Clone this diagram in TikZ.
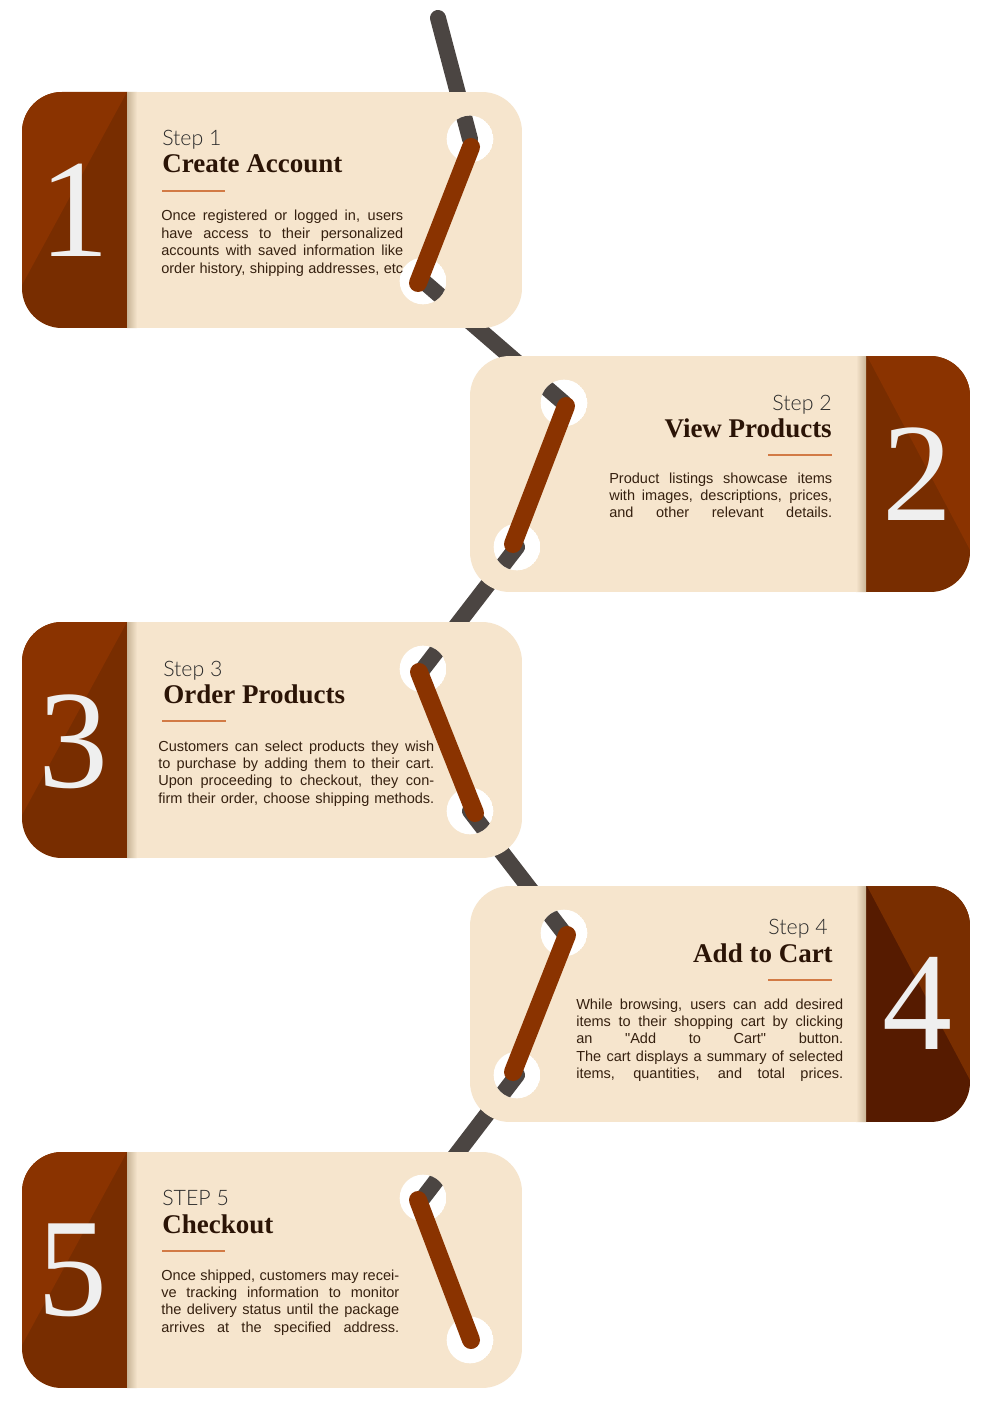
\documentclass[tikz,border=0pt]{standalone}
\usepackage{fontspec}
\setmainfont{Liberation Serif}
\newfontfamily\numfont{Liberation Serif}
\newfontfamily\bodyfont{Liberation Sans}
\newfontfamily\stepfont{Lato Light}

\definecolor{cream}{HTML}{F6E5CD}
\definecolor{blockdark}{HTML}{782D00}
\definecolor{blocklight}{HTML}{8A3300}
\definecolor{blockdarkB}{HTML}{561B00}
\definecolor{blocklightB}{HTML}{792E00}
\definecolor{stitchcol}{HTML}{8A3300}
\definecolor{threadcol}{HTML}{4B4542}
\definecolor{ink}{HTML}{35200F}
\definecolor{titleink}{HTML}{2B1406}
\definecolor{stepink}{HTML}{2A2A2A}
\definecolor{rulecol}{HTML}{D27A45}
\definecolor{digitcol}{HTML}{EFEFEF}
\definecolor{shadowcol}{HTML}{C9B597}

% one justified line of body text
\newcommand\jline[1]{\makebox[\linewidth][s]{#1}\par}

% card with the number block on the left; #1 = top edge
\newcommand\leftcard[3]{%
  \begin{scope}
    \clip[rounded corners=30pt] (22,#1) rectangle (522,#1+236);
    \fill[cream] (22,#1) rectangle (522,#1+236);
    \fill[#2] (22,#1) rectangle (127,#1+236);
    \fill[#3] (22,#1) -- (127,#1) -- (22,#1+193) -- cycle;
    \shade[left color=shadowcol,right color=cream] (127,#1) rectangle (137,#1+236);
  \end{scope}}

% card with the number block on the right; #1 = top edge
\newcommand\rightcard[3]{%
  \begin{scope}
    \clip[rounded corners=30pt] (470,#1) rectangle (970,#1+236);
    \fill[cream] (470,#1) rectangle (970,#1+236);
    \fill[#2] (866,#1) rectangle (970,#1+236);
    \fill[#3] (867,#1) -- (970,#1) -- (970,#1+194) -- cycle;
    \shade[left color=cream,right color=shadowcol] (856,#1) rectangle (866,#1+236);
  \end{scope}}

% the thread pieces running between the cards
\newcommand\threads{%
  \draw[thread] (start) -- (c1a);
  \draw[thread] (c1b) -- (c2a);
  \draw[thread] (c2b) -- (c3a);
  \draw[thread] (c3b) -- (c4a);
  \draw[thread] (c4b) -- (c5a);}

% a punched hole showing the thread behind it
\newcommand\hole[1]{%
  \begin{scope}
    \clip (#1) circle[radius=17.5pt];
    \fill[white] (#1) circle[radius=17.5pt];
    \threads
  \end{scope}}

\tikzset{
  thread/.style={draw=threadcol, line width=12pt, line cap=round},
  stitchline/.style={draw=stitchcol, line width=13.5pt, line cap=round},
  numlabel/.style={font=\numfont\fontsize{105}{105}\selectfont, text=digitcol, inner sep=0pt},
  steplabel/.style={font=\stepfont\fontsize{16}{16}\selectfont, text=stepink, inner sep=0pt},
  titlelabel/.style={font=\bfseries\fontsize{20.25}{22}\selectfont, text=titleink, inner sep=0pt},
  bodytext/.style={font=\bodyfont\fontsize{10.9}{13.05}\selectfont, text=ink, inner sep=0pt},
  rulestyle/.style={draw=rulecol, line width=1.5pt},
}

\begin{document}
\begin{tikzpicture}[x=0.75pt,y=-0.75pt]
\useasboundingbox (0,0) rectangle (990,1419);
\fill[white] (0,0) rectangle (990,1419);

% hole centres and stitch ends
\coordinate (start) at (438,18);
\coordinate (c1a) at (470,139);  \coordinate (c1b) at (423,281);
\coordinate (c2a) at (564,403);  \coordinate (c2b) at (517,547);
\coordinate (c3a) at (423,669);  \coordinate (c3b) at (470,811);
\coordinate (c4a) at (564,933);  \coordinate (c4b) at (517,1075);
\coordinate (c5a) at (423,1198); \coordinate (c5b) at (470,1340);

\coordinate (s1a) at (471,147);  \coordinate (s1b) at (418,283);
\coordinate (s2a) at (566,406);  \coordinate (s2b) at (513,544);
\coordinate (s3a) at (419,672);  \coordinate (s3b) at (475,813);
\coordinate (s4a) at (567,935);  \coordinate (s4b) at (513,1072);
\coordinate (s5a) at (418,1200); \coordinate (s5b) at (471,1340);

\threads

\leftcard{92}{blockdark}{blocklight}
\rightcard{356}{blockdark}{blocklight}
\leftcard{622}{blockdark}{blocklight}
\rightcard{886}{blockdarkB}{blocklightB}
\leftcard{1152}{blockdark}{blocklight}

\foreach \h in {c1a,c1b,c2a,c2b,c3a,c3b,c4a,c4b,c5a,c5b} {\hole{\h}}

\draw[stitchline] (s1a) -- (s1b);
\draw[stitchline] (s2a) -- (s2b);
\draw[stitchline] (s3a) -- (s3b);
\draw[stitchline] (s4a) -- (s4b);
\draw[stitchline] (s5a) -- (s5b);

% numbers
\node[numlabel] (n1) at (74,210) {1};
\node[numlabel] (n2) at (917,474) {2};
\node[numlabel] (n3) at (73,742) {3};
\node[numlabel] (n4) at (917,1003) {4};
\node[numlabel] (n5) at (72,1270) {5};

% step 1
\node[steplabel,anchor=base west] (step1) at (162,146) {Step 1};
\node[titlelabel,anchor=base west] (title1) at (162,173) {Create Account};
\draw[rulestyle] (162,191) -- (225,191);
\node[bodytext,anchor=base west] (body1) at (161,221) {\parbox[t]{181.5pt}{%
  \jline{Once registered or logged in, users}
  \jline{have access to their personalized}
  \jline{accounts with saved information like}
  \jline{order history, shipping addresses, etc}}};

% step 2
\node[steplabel,anchor=base east] (step2) at (832,410) {Step 2};
\node[titlelabel,anchor=base east] (title2) at (832,437) {View Products};
\draw[rulestyle] (768,455) -- (832,455);
\node[bodytext,anchor=base west] (body2) at (609,483) {\parbox[t]{167.25pt}{%
  \jline{Product listings showcase items}
  \jline{with images, descriptions, prices,}
  \jline{and other relevant details.}}};

% step 3
\node[steplabel,anchor=base west] (step3) at (163,676) {Step 3};
\node[titlelabel,anchor=base west] (title3) at (163,703) {Order Products};
\draw[rulestyle] (162,721) -- (226,721);
\node[bodytext,anchor=base west] (body3) at (158,751) {\parbox[t]{207pt}{%
  \jline{Customers can select products they wish}
  \jline{to purchase by adding them to their cart.}
  \jline{Upon proceeding to checkout, they con-}
  \jline{firm their order, choose shipping methods.}}};

% step 4
\node[steplabel,anchor=base east] (step4) at (828,934) {Step 4};
\node[titlelabel,anchor=base east] (title4) at (833,962) {Add to Cart};
\draw[rulestyle] (768,980) -- (832,980);
\node[bodytext,anchor=base west] (body4) at (576,1009) {\parbox[t]{200.25pt}{%
  \jline{While browsing, users can add desired}
  \jline{items to their shopping cart by clicking}
  \jline{an "Add to Cart" button.}
  \jline{The cart displays a summary of selected}
  \jline{items, quantities, and total prices.}}};

% step 5
\node[steplabel,anchor=base west] (step5) at (162,1205) {STEP 5};
\node[titlelabel,anchor=base west] (title5) at (162,1233) {Checkout};
\draw[rulestyle] (162,1251) -- (225,1251);
\node[bodytext,anchor=base west] (body5) at (161,1280) {\parbox[t]{178.5pt}{%
  \jline{Once shipped, customers may recei-}
  \jline{ve tracking information to monitor}
  \jline{the delivery status until the package}
  \jline{arrives at the specified address.}}};
\end{tikzpicture}
\end{document}
